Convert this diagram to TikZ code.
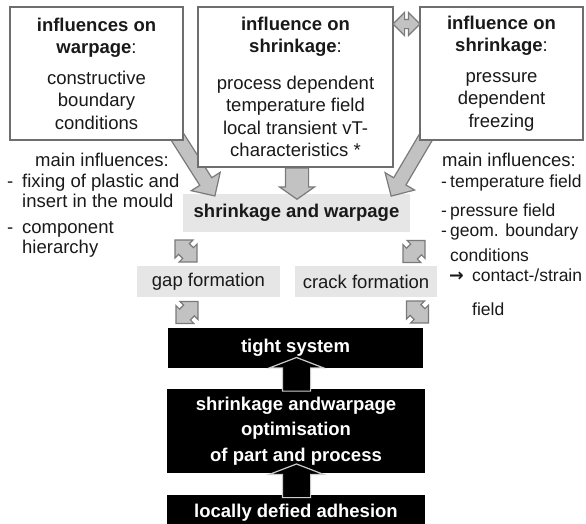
\documentclass[tikz,border=0pt]{standalone}
\usepackage{fontspec}
\setmainfont{Liberation Sans}
\newfontfamily\symbfont{DejaVu Sans}
\usetikzlibrary{shapes.arrows}

\definecolor{framegray}{HTML}{6E6E6E}
\definecolor{panelgray}{HTML}{E6E6E6}
\definecolor{arrowfill}{HTML}{C2C2C2}
\definecolor{arrowline}{HTML}{7A7A7A}

\newcommand{\basefont}{\fontsize{18.5}{22.5}\selectfont}
\newcommand{\lstdash}[1][15pt]{\makebox[#1][l]{-}}

\begin{document}
\begin{tikzpicture}[x=1pt, y=1pt,
    every node/.style={font=\basefont, text=black!90},
    inflbox/.style={draw=framegray, line width=1.8pt, fill=white, align=center, inner sep=0pt},
    effbox/.style={fill=panelgray, align=center, inner sep=0pt},
    resbox/.style={fill=black, text=white, font=\basefont\bfseries, align=center, inner sep=0pt},
    bigarrow/.style={single arrow, draw=arrowline, fill=arrowfill, line width=1.2pt,
        inner sep=6.5pt, single arrow head extend=10pt},
    linkarrow/.style={double arrow, draw=arrowline, fill=arrowfill, line width=1.2pt,
        inner sep=7pt, double arrow head extend=5pt, minimum height=31},
    uparrow/.style={single arrow, fill=black, draw=white!80!black, line width=1.2pt,
        inner sep=13.5pt, single arrow head extend=13pt, single arrow tip angle=138},
    listline/.style={anchor=base west, inner sep=0pt},
    rlistline/.style={listline, font=\fontsize{17.5}{21}\selectfont}]
        % \draw[help lines] (0,0) grid[step=50] (586,-523);
        \useasboundingbox (0,0) rectangle (586,-523);
        \clip (0,0) rectangle (586,-523);

        % effects
        \node[effbox, minimum width=227, minimum height=38] at (296.5,-213) (sw) {\textbf{shrinkage and warpage}};
        \node[effbox, minimum width=143, minimum height=31] at (208.5,-281.5) (gap) {gap formation};
        \node[effbox, minimum width=142, minimum height=31] at (366,-281.5) (crack) {crack formation};

        % grey block arrows into the shrinkage box
        \node[bigarrow, minimum height=84, rotate=-57.6] at (190.5,-157.5) (arrL) {};
        \node[bigarrow, minimum height=79, rotate=-120.5] at (413,-159) (arrR) {};
        \node[bigarrow, minimum height=29, rotate=-90, inner sep=11pt,
            single arrow head extend=6pt, single arrow tip angle=110] at (297,-179.5) (arrM) {};

        % influences
        \node[inflbox, minimum width=173, minimum height=133] at (96.5,-73.5) (warp)
            {\textbf{influences on}\\\textbf{warpage}:\\[8pt] constructive\\ boundary\\ conditions};
        \node[inflbox, minimum width=195, minimum height=160] at (295.5,-87) (shrT)
            {\textbf{influence on}\\\textbf{shrinkage}:\\[14pt] process dependent\\ temperature field\\ local transient vT-\\ characteristics *};
        \node[inflbox, minimum width=163, minimum height=133] at (501.5,-73.5) (shrP)
            {\textbf{influence on}\\\textbf{shrinkage}:\\[8pt] pressure\\ dependent\\ freezing};
        \node[linkarrow, minimum height=27, inner sep=4pt, double arrow head extend=7pt] at (406.5,-24) (arrT) {};

        % main influences, left
        \node[listline] at (35,-166.5) (mainL) {main influences:};
        \node[listline] at (7,-187) (fixL) {\lstdash fixing of plastic and};
        \node[listline] at (22,-207) (fixL2) {insert in the mould};
        \node[listline] at (7,-233) (compL) {\lstdash component};
        \node[listline] at (22,-253) (compL2) {hierarchy};

        % main influences, right
        \node[listline] at (442,-166.5) (mainR) {main influences:};
        \node[rlistline] at (441,-187) (tempR) {\lstdash[9pt]temperature field};
        \node[rlistline] at (441,-216.5) (presR) {\lstdash[9pt]pressure field};
        \node[rlistline] at (441,-236.5) (geomR) {\lstdash[9pt]geom. boundary};
        \node[rlistline] at (450,-261.5) (geomR2) {conditions};
        \node[rlistline] at (449,-281.5) (contR) {\makebox[23pt][l]{\symbfont\bfseries →}contact-/strain};
        \node[rlistline] at (472,-315) (contR2) {field};

        % results
        \node[resbox, minimum width=255, minimum height=40] at (295.5,-348) (tight) {tight system};
        \node[resbox, minimum width=258, minimum height=84] at (296,-431) (optim)
            {shrinkage andwarpage\\[3pt] optimisation\\[3pt] of part and process};
        \node[resbox, minimum width=258, minimum height=35] at (296,-512.5) (adhes) {locally defied adhesion};
        \node[uparrow, minimum height=28, rotate=90] at (296.5,-377) (up1) {};
        \node[uparrow, minimum height=27, rotate=90] at (296.5,-483.5) (up2) {};

        % links between effects
        \node[linkarrow, rotate=-45] at (186,-251) (swgap) {};
        \node[linkarrow, rotate=45] at (414,-251.5) (swcrack) {};
        \node[linkarrow, rotate=45] at (187,-312.5) (gaptight) {};
        \node[linkarrow, rotate=-45] at (417.5,-312) (cracktight) {};

    \end{tikzpicture}
\end{document}
